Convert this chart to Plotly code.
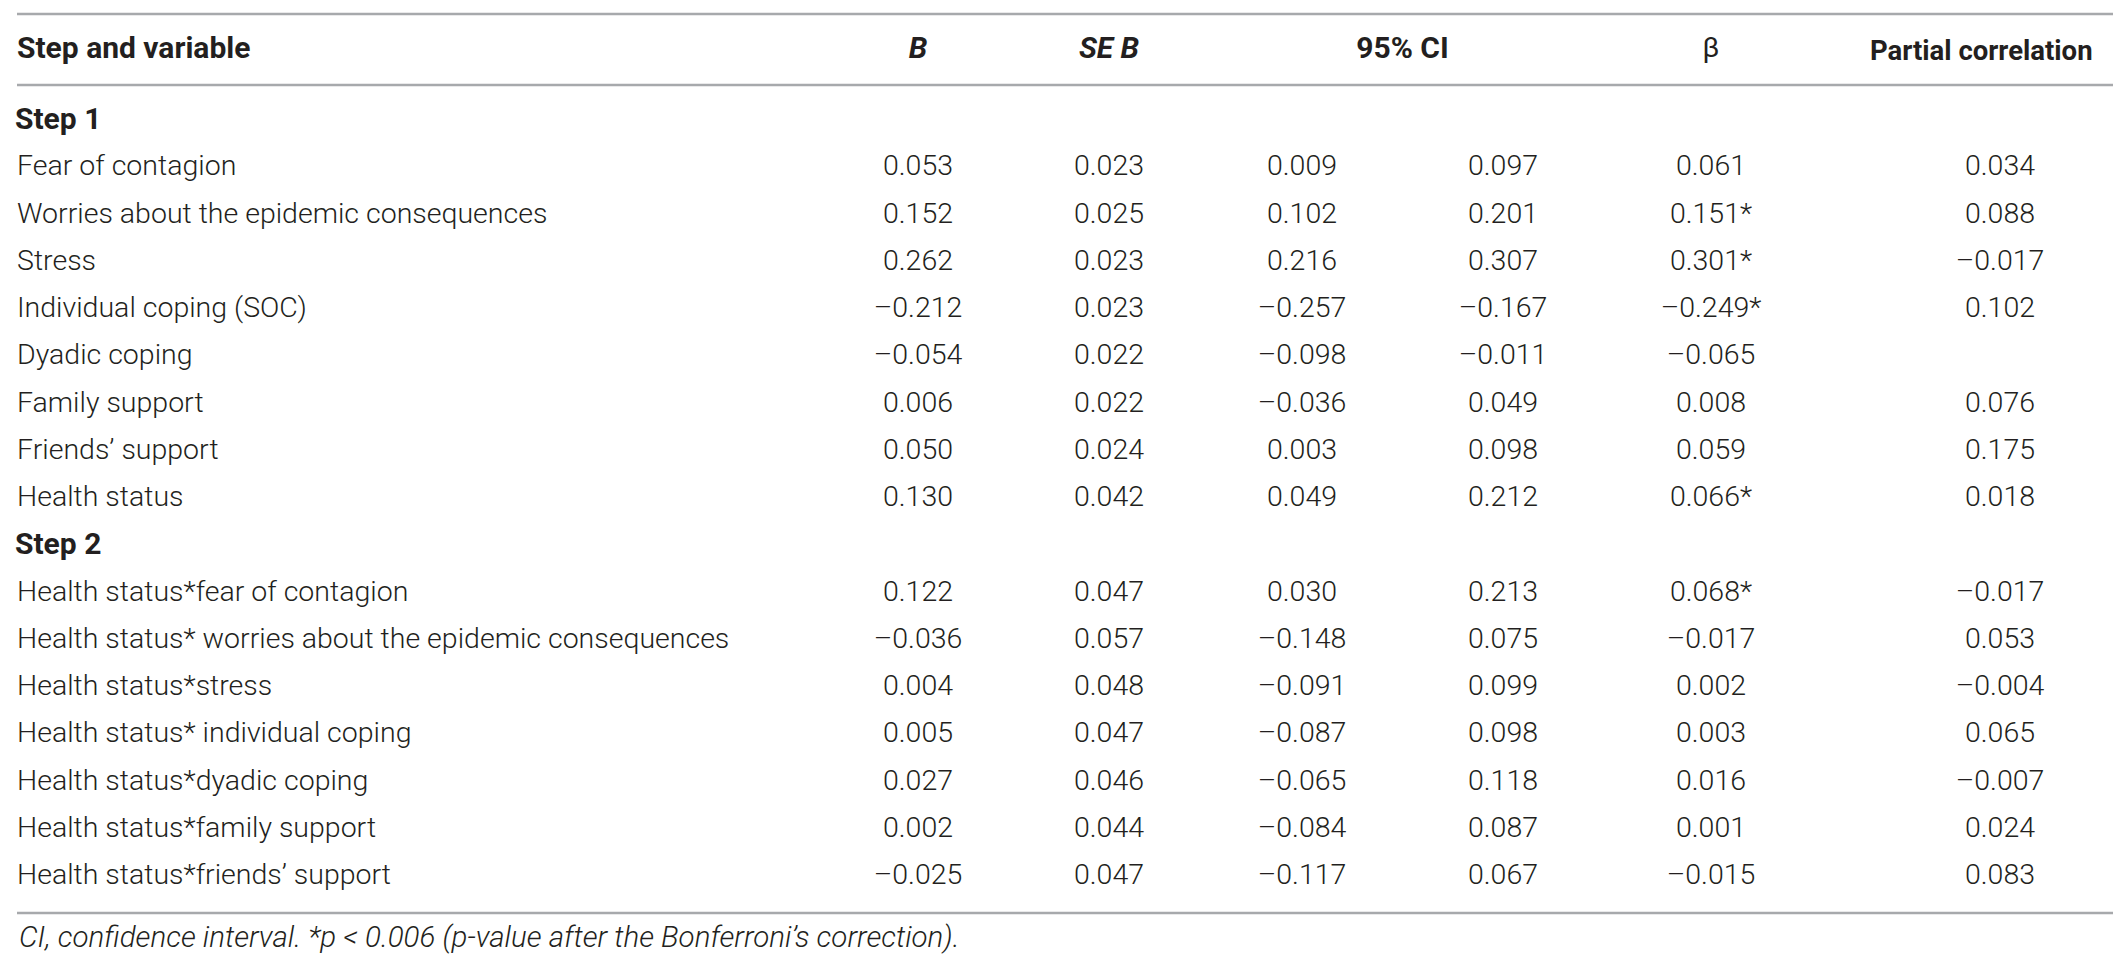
import plotly.graph_objects as go

W, H = 2121, 954

# ---- table data ----
headers = ["Step and variable", "<i>B</i>", "<i>SE B</i>", "95% CI", "β", "Partial correlation"]

labels = [
    "Step 1",
    "Fear of contagion",
    "Worries about the epidemic consequences",
    "Stress",
    "Individual coping (SOC)",
    "Dyadic coping",
    "Family support",
    "Friends’ support",
    "Health status",
    "Step 2",
    "Health status*fear of contagion",
    "Health status* worries about the epidemic consequences",
    "Health status*stress",
    "Health status* individual coping",
    "Health status*dyadic coping",
    "Health status*family support",
    "Health status*friends’ support",
]
step_rows = ["Step 1", "Step 2"]

b = ["", "0.053", "0.152", "0.262", "–0.212", "–0.054", "0.006", "0.050", "0.130",
     "", "0.122", "–0.036", "0.004", "0.005", "0.027", "0.002", "–0.025"]
se_b = ["", "0.023", "0.025", "0.023", "0.023", "0.022", "0.022", "0.024", "0.042",
        "", "0.047", "0.057", "0.048", "0.047", "0.046", "0.044", "0.047"]
ci_low = ["", "0.009", "0.102", "0.216", "–0.257", "–0.098", "–0.036", "0.003", "0.049",
          "", "0.030", "–0.148", "–0.091", "–0.087", "–0.065", "–0.084", "–0.117"]
ci_high = ["", "0.097", "0.201", "0.307", "–0.167", "–0.011", "0.049", "0.098", "0.212",
           "", "0.213", "0.075", "0.099", "0.098", "0.118", "0.087", "0.067"]
beta = ["", "0.061", "0.151*", "0.301*", "–0.249*", "–0.065", "0.008", "0.059", "0.066*",
        "", "0.068*", "–0.017", "0.002", "0.003", "0.016", "0.001", "–0.015"]
partial = ["", "0.034", "0.088", "–0.017", "0.102", "", "0.076", "0.175", "0.018",
           "", "–0.017", "0.053", "–0.004", "0.065", "–0.007", "0.024", "0.083"]

footnote = "CI, confidence interval. *p < 0.006 (p-value after the Bonferroni’s correction)."

# ---- layout geometry (pixels) ----
col_x = [910, 1101, 1294, 1495, 1703, 1992]
label_x = 9
right_edge = 2115
header_y = 42
first_row_y = 113
pitch = 47.25
row_y = [first_row_y + i * pitch for i in range(len(labels))]

FONT = "Roboto, 'Liberation Sans', Arial, sans-serif"
TXT = "#231f20"
BODY = 28.5
BOLD = 30

fig = go.Figure()

# row labels (regular)
body_idx = [i for i, l in enumerate(labels) if l not in step_rows]
fig.add_trace(go.Scatter(
    x=[label_x] * len(body_idx), y=[row_y[i] for i in body_idx], mode="text",
    text=[labels[i] for i in body_idx],
    textposition="middle right",
    textfont=dict(family=FONT, size=BODY, color=TXT, weight=300),
    hoverinfo="skip", showlegend=False,
))
# step labels (bold)
step_idx = [i for i, l in enumerate(labels) if l in step_rows]
fig.add_trace(go.Scatter(
    x=[label_x - 2] * len(step_idx), y=[row_y[i] for i in step_idx], mode="text",
    text=[labels[i] for i in step_idx],
    textposition="middle right",
    textfont=dict(family=FONT, size=BOLD, color=TXT, weight="bold"),
    hoverinfo="skip", showlegend=False,
))

# value columns
for cx, vals in zip(col_x, [b, se_b, ci_low, ci_high, beta, partial]):
    fig.add_trace(go.Scatter(
        x=[cx] * len(vals), y=row_y, mode="text", text=vals,
        textposition="middle center",
        textfont=dict(family=FONT, size=BODY, color=TXT, weight=300),
        hoverinfo="skip", showlegend=False,
    ))

# headers (bold, except the beta glyph)
hdr_x = [label_x, col_x[0], col_x[1], (col_x[2] + col_x[3]) / 2, col_x[4]]
hdr_pos = ["middle right", "middle center", "middle center", "middle center", "middle center"]
bold_hdr = [0, 1, 2, 3]
fig.add_trace(go.Scatter(
    x=[hdr_x[i] for i in bold_hdr], y=[header_y] * len(bold_hdr), mode="text",
    text=[headers[i] for i in bold_hdr],
    textposition=[hdr_pos[i] for i in bold_hdr],
    textfont=dict(family=FONT, size=BOLD, color=TXT, weight="bold"),
    hoverinfo="skip", showlegend=False,
))
fig.add_trace(go.Scatter(
    x=[hdr_x[4]], y=[header_y], mode="text", text=[headers[4]],
    textposition="middle center",
    textfont=dict(family=FONT, size=BODY, color=TXT, weight=400),
    hoverinfo="skip", showlegend=False,
))
# last header: a bit smaller so it stays inside the right edge
fig.add_annotation(x=1860, y=header_y, text=f"<b>{headers[5]}</b>",
                   showarrow=False, xanchor="left", yanchor="middle",
                   font=dict(family=FONT, size=27.5, color=TXT))

# rules
for yy in [6, 77, 905]:
    fig.add_shape(type="line", x0=9, x1=right_edge, y0=yy, y1=yy,
                  line=dict(color="#a7a9ac", width=2.5))

fig.add_annotation(x=label_x, y=929, text=f"<i>{footnote}</i>", showarrow=False,
                   xanchor="left", yanchor="middle",
                   font=dict(family=FONT, size=29.5, color=TXT, weight=300))

fig.update_layout(
    width=W, height=H,
    margin=dict(l=0, r=0, t=0, b=0),
    paper_bgcolor="white", plot_bgcolor="white",
    xaxis=dict(range=[0, W], visible=False, fixedrange=True),
    yaxis=dict(range=[H, 0], visible=False, fixedrange=True),
)

fig.write_html("out.html")
